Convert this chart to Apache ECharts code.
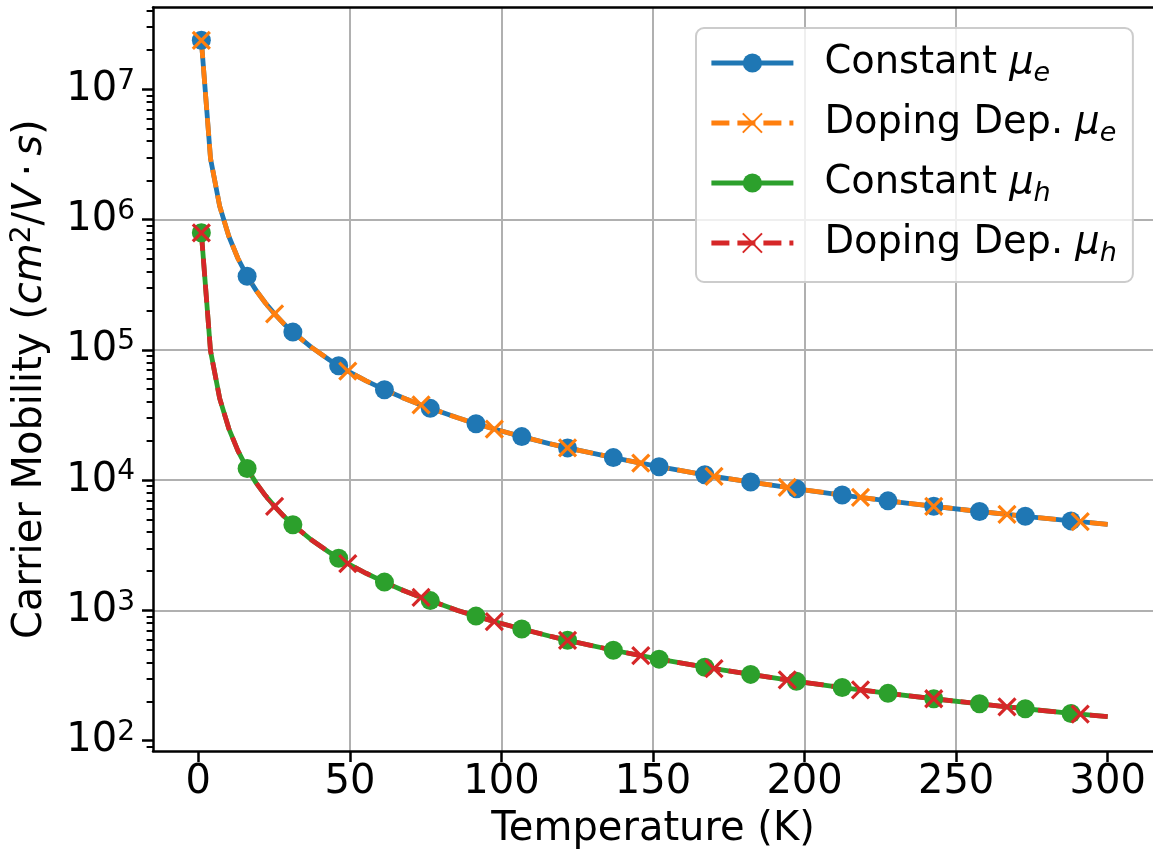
<!DOCTYPE html>
<html><head><meta charset="utf-8">
<script src="https://cdn.jsdelivr.net/npm/echarts@6/dist/echarts.min.js"></script>
<style>html,body{margin:0;padding:0;background:#fff}#c{width:1153px;height:858px}</style>
</head><body><div id="c"></div>
<script>
// ---- data ----
const temperature = [1.00, 4.02, 7.04, 10.06, 13.08, 16.10, 19.12, 22.14, 25.16, 28.18, 31.20, 37.24, 43.28, 46.30, 49.32, 55.36, 61.40, 67.44, 73.48, 76.51, 85.57, 91.61, 97.65, 106.71, 115.77, 121.81, 136.91, 145.97, 152.01, 167.11, 170.13, 182.21, 194.29, 197.31, 212.41, 218.45, 227.52, 242.62, 257.72, 266.78, 272.82, 287.92, 290.94, 300.00];
const constantMuE = [2.38e7, 2.95e6, 1.27e6, 7.46e5, 5.03e5, 3.68e5, 2.85e5, 2.29e5, 1.89e5, 1.59e5, 1.37e5, 1.05e5, 8.36e4, 7.56e4, 6.87e4, 5.78e4, 4.95e4, 4.30e4, 3.78e4, 3.56e4, 3.01e4, 2.71e4, 2.47e4, 2.16e4, 1.91e4, 1.77e4, 1.49e4, 1.35e4, 1.27e4, 1.10e4, 1.07e4, 9.68e3, 8.79e3, 8.59e3, 7.69e3, 7.37e3, 6.94e3, 6.30e3, 5.75e3, 5.46e3, 5.28e3, 4.87e3, 4.80e3, 4.58e3];
const dopingMuE = [2.38e7, 2.95e6, 1.27e6, 7.46e5, 5.03e5, 3.68e5, 2.85e5, 2.29e5, 1.89e5, 1.59e5, 1.37e5, 1.05e5, 8.36e4, 7.56e4, 6.87e4, 5.78e4, 4.95e4, 4.30e4, 3.78e4, 3.56e4, 3.01e4, 2.71e4, 2.47e4, 2.16e4, 1.91e4, 1.77e4, 1.49e4, 1.35e4, 1.27e4, 1.10e4, 1.07e4, 9.68e3, 8.79e3, 8.59e3, 7.69e3, 7.37e3, 6.94e3, 6.30e3, 5.75e3, 5.46e3, 5.28e3, 4.87e3, 4.80e3, 4.58e3];
const constantMuH = [7.93e5, 9.84e4, 4.25e4, 2.49e4, 1.68e4, 1.23e4, 9.49e3, 7.62e3, 6.29e3, 5.30e3, 4.55e3, 3.49e3, 2.79e3, 2.52e3, 2.29e3, 1.93e3, 1.65e3, 1.43e3, 1.26e3, 1.19e3, 1.00e3, 905, 822, 720, 637, 590, 495, 450, 423, 367, 358, 323, 293, 286, 256, 246, 231, 210, 192, 182, 176, 162, 160, 153];
const dopingMuH = [7.93e5, 9.84e4, 4.25e4, 2.49e4, 1.68e4, 1.23e4, 9.49e3, 7.62e3, 6.29e3, 5.30e3, 4.55e3, 3.49e3, 2.79e3, 2.52e3, 2.29e3, 1.93e3, 1.65e3, 1.43e3, 1.26e3, 1.19e3, 1.00e3, 905, 822, 720, 637, 590, 495, 450, 423, 367, 358, 323, 293, 286, 256, 246, 231, 210, 192, 182, 176, 162, 160, 153];
// temperatures at which markers are drawn
const constantMarkerT = [1.00, 16.10, 31.20, 46.30, 61.40, 76.51, 91.61, 106.71, 121.81, 136.91, 152.01, 167.11, 182.21, 197.31, 212.41, 227.52, 242.62, 257.72, 272.82, 287.92];
const dopingMarkerT = [1.00, 25.16, 49.32, 73.48, 97.65, 121.81, 145.97, 170.13, 194.29, 218.45, 242.62, 266.78, 290.94];
const seriesNames = ['Constant μe', 'Doping Dep. μe', 'Constant μh', 'Doping Dep. μh'];
const xTicks = [0, 50, 100, 150, 200, 250, 300];
const yTicks = [1e2, 1e3, 1e4, 1e5, 1e6, 1e7];

// ---- layout / style ----
const FONT = 'DejaVu Sans';
const X_MIN = -14.95, X_MAX = 314.95;
const Y_MIN = 83.4, Y_MAX = 4.25e7;
const minorTicks = [];
for (let e = 1; e <= 7; e++) for (let m = 2; m <= 9; m++) {
  const v = m * Math.pow(10, e);
  if (v > Y_MIN && v < Y_MAX) minorTicks.push(v);
}
const XPATH = 'path://M0,0L10,10M10,0L0,10';

function makeSeries(name, ys, color, markerTs, isX, dashed) {
  return {
    name, type: 'line', xAxisIndex: 0, yAxisIndex: 0,
    data: temperature.map((t, i) => {
      const d = { value: [t, ys[i]] };
      if (markerTs.indexOf(t) < 0) d.symbol = 'none';
      return d;
    }),
    showSymbol: true, showAllSymbol: true,
    symbol: isX ? XPATH : 'circle',
    symbolSize: isX ? 17 : 19,
    itemStyle: isX ? { color: color, borderColor: color, borderWidth: 3.2 } : { color: color, borderWidth: 0 },
    lineStyle: { color: color, width: 4.8, type: dashed ? [18, 8] : 'solid', cap: 'butt' },
    emphasis: { disabled: true },
    animation: false,
    clip: true
  };
}

const supRich = {
  b: { fontFamily: FONT, fontSize: 40, lineHeight: 44, color: '#000' },
  e: { fontFamily: FONT, fontSize: 28, lineHeight: 28, verticalAlign: 'top', color: '#000' }
};

const legRich = {
  m: { fontFamily: FONT, fontStyle: 'italic', fontSize: 38.4, lineHeight: 50, color: '#000' },
  s: { fontFamily: FONT, fontStyle: 'italic', fontSize: 27, lineHeight: 27, verticalAlign: 'top', padding: [22, 0, 0, 0], color: '#000' }
};

const chart = echarts.init(document.getElementById('c'), null, { renderer: 'canvas' });
chart.setOption({
  backgroundColor: '#fff',
  animation: false,
  grid: { left: 153, top: 7.5, width: 1001, height: 743.5, show: false, containLabel: false },
  legend: {
    orient: 'vertical', left: 696, top: 28,
    padding: [10, 16, 14, 13],
    itemWidth: 82, itemHeight: 24, itemGap: 10,
    backgroundColor: 'rgba(255,255,255,0.8)', borderColor: '#cccccc', borderWidth: 2, borderRadius: 8,
    lineStyle: { width: 4.8 },
    data: seriesNames,
    formatter: function (name) {
      const parts = name.split('μ');
      return parts[0] + '{m|μ}{s|' + parts[1] + '}';
    },
    textStyle: { fontFamily: FONT, fontSize: 38.4, lineHeight: 50, color: '#000', padding: [0, 0, 0, 26], rich: legRich }
  },
  xAxis: [{
    type: 'value', min: X_MIN, max: X_MAX,
    name: 'Temperature (K)', nameLocation: 'middle', nameGap: 59,
    nameTextStyle: { fontFamily: FONT, fontSize: 40, color: '#000' },
    axisLine: { show: true, onZero: false, lineStyle: { color: '#000', width: 2.5 } },
    axisTick: { show: true, length: 11, customValues: xTicks, lineStyle: { color: '#000', width: 2.5 } },
    axisLabel: { customValues: xTicks, margin: 12, fontFamily: FONT, fontSize: 40, color: '#000' },
    splitLine: { show: true, showMinLine: false, showMaxLine: false, lineStyle: { color: '#b0b0b0', width: 2 } }
  }, {
    type: 'value', min: X_MIN, max: X_MAX, position: 'top',
    axisLine: { show: true, onZero: false, lineStyle: { color: '#000', width: 2.5 } },
    axisTick: { show: false }, axisLabel: { show: false }, splitLine: { show: false }
  }],
  yAxis: [{
    type: 'log', logBase: 10, min: Y_MIN, max: Y_MAX,
    name: '{r|Carrier Mobility (}{i|cm}{p|2}{r|/}{i|V}{r|\u2009·\u2009}{i|s}{r|)}',
    nameLocation: 'middle', nameGap: 100, nameRotate: 90,
    nameTextStyle: {
      fontFamily: FONT, fontSize: 40, color: '#000',
      rich: {
        r: { fontFamily: FONT, fontSize: 40, lineHeight: 44, color: '#000' },
        i: { fontFamily: FONT, fontSize: 40, lineHeight: 44, fontStyle: 'italic', color: '#000' },
        p: { fontFamily: FONT, fontSize: 28, lineHeight: 28, verticalAlign: 'top', fontStyle: 'normal', color: '#000' }
      }
    },
    axisLine: { show: true, onZero: false, lineStyle: { color: '#000', width: 2.5 } },
    axisTick: { show: true, length: 11, customValues: yTicks, lineStyle: { color: '#000', width: 2.5 } },
    axisLabel: {
      customValues: yTicks, margin: 18,
      formatter: function (v) {
        const e = Math.round(Math.log10(v));
        return '{b|10}{e|' + e + '}';
      },
      rich: supRich
    },
    splitLine: { show: true, showMinLine: false, showMaxLine: false, lineStyle: { color: '#b0b0b0', width: 2 } }
  }, {
    type: 'log', logBase: 10, min: Y_MIN, max: Y_MAX, position: 'left',
    axisLine: { show: false, onZero: false },
    axisTick: { show: true, length: 6.4, customValues: minorTicks, lineStyle: { color: '#000', width: 2 } },
    axisLabel: { show: false },
    splitLine: { show: false }
  }],
  series: [
    makeSeries(seriesNames[0], constantMuE, '#1f77b4', constantMarkerT, false, false),
    makeSeries(seriesNames[1], dopingMuE, '#ff7f0e', dopingMarkerT, true, true),
    makeSeries(seriesNames[2], constantMuH, '#2ca02c', constantMarkerT, false, false),
    makeSeries(seriesNames[3], dopingMuH, '#d62728', dopingMarkerT, true, true)
  ]
});
</script>
</body></html>
